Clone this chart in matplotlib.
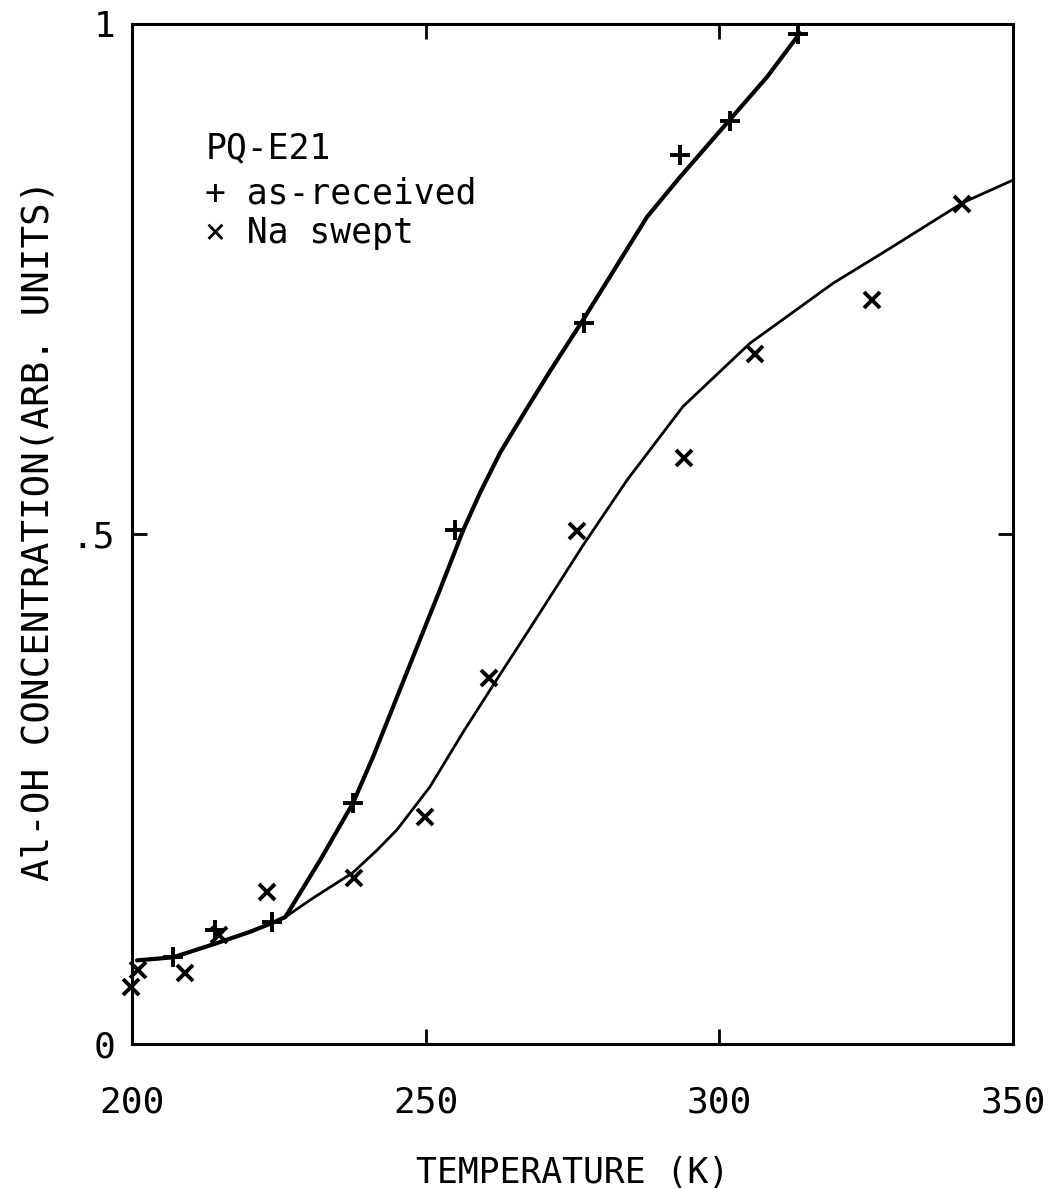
import numpy as np
import matplotlib
matplotlib.use('Agg')
import matplotlib.pyplot as plt

# measured points, as-received (+)
temp_recv = [207.0, 214.1, 223.8, 237.6, 255.0, 277.0, 293.3, 301.8, 313.4]
conc_recv = [0.085, 0.112, 0.120, 0.236, 0.504, 0.707, 0.872, 0.905, 0.990]

# measured points, Na swept (x)
temp_swept = [199.8, 201.0, 209.0, 214.8, 223.0, 237.8, 249.9, 260.8, 275.8, 294.0, 306.1, 326.0, 341.3]
conc_swept = [0.056, 0.073, 0.070, 0.107, 0.149, 0.163, 0.223, 0.359, 0.503, 0.575, 0.676, 0.729, 0.824]

# fitted curves
fit_recv_t = [200.85, 207.0, 214.5, 220.1, 224.0, 226.1, 232.0, 237.6, 241.0, 245.1, 248.5,
              252.4, 256.4, 259.3, 262.7, 266.9, 271.2, 276.8, 280.9, 287.7, 293.3, 301.3, 308.1, 313.7]
fit_recv_c = [0.082, 0.085, 0.099, 0.110, 0.119, 0.1245, 0.180, 0.236, 0.281, 0.340, 0.389,
              0.445, 0.504, 0.541, 0.580, 0.620, 0.660, 0.710, 0.748, 0.811, 0.850, 0.903, 0.948, 0.991]

fit_swept_t = [200.85, 207.0, 214.5, 220.1, 224.0, 226.1, 230.8, 237.6, 241.7, 245.1, 250.7, 256.4,
               261.5, 267.8, 276.8, 284.3, 293.8, 305.2, 319.4, 327.9, 341.5, 350.0]
fit_swept_c = [0.082, 0.085, 0.099, 0.110, 0.119, 0.1245, 0.143, 0.168, 0.190, 0.210, 0.252, 0.306,
               0.352, 0.408, 0.489, 0.553, 0.625, 0.687, 0.746, 0.776, 0.825, 0.847]

x_ticks = [200, 250, 300, 350]
x_tick_labels = ['200', '250', '300', '350']
y_ticks = [0, 0.5, 1]
y_tick_labels = ['0', '.5', '1']

plt.rcParams['font.family'] = ['DejaVu Sans Mono']

fig = plt.figure(figsize=(10.52, 11.88), dpi=100)
ax = fig.add_axes([0.1255, 0.1212, 0.8375, 0.8586])

ax.plot(fit_recv_t, fit_recv_c, color='black', lw=3.0, solid_capstyle='round', solid_joinstyle='round')
ax.plot(fit_swept_t, fit_swept_c, color='black', lw=2.0, solid_capstyle='round', solid_joinstyle='round')
ax.plot(temp_recv, conc_recv, ls='none', marker='+', ms=15, mew=2.8, color='black', clip_on=False)
ax.plot(temp_swept, conc_swept, ls='none', marker='x', ms=12, mew=2.8, color='black', clip_on=False)

ax.set_xlim(200, 350)
ax.set_ylim(0, 1)
ax.set_xticks(x_ticks)
ax.set_xticklabels(x_tick_labels)
ax.set_yticks(y_ticks)
ax.set_yticklabels(y_tick_labels)
ax.tick_params(direction='in', length=11, width=2, top=True, right=True, labelsize=26)
ax.tick_params(axis='x', pad=30)
ax.tick_params(axis='y', pad=12)
for s in ax.spines.values():
    s.set_linewidth(2.2)

ax.set_xlabel('TEMPERATURE (K)', fontsize=25)
ax.xaxis.set_label_coords(0.5, -0.1363)
ax.xaxis.label.set_va('baseline')
ax.set_ylabel('Al-OH CONCENTRATION(ARB. UNITS)', fontsize=27)
ax.yaxis.set_label_coords(-0.1067, 0.504)
ax.yaxis.label.set_va('center')

# legend text block
ax.text(0.083, 0.8686, 'PQ-E21', transform=ax.transAxes, fontsize=25, va='baseline')
ax.text(0.083, 0.8245, '+ as-received', transform=ax.transAxes, fontsize=25, va='baseline')
ax.text(0.083, 0.785, '× Na swept', transform=ax.transAxes, fontsize=25, va='baseline')

fig.savefig('out.png', dpi=100)
